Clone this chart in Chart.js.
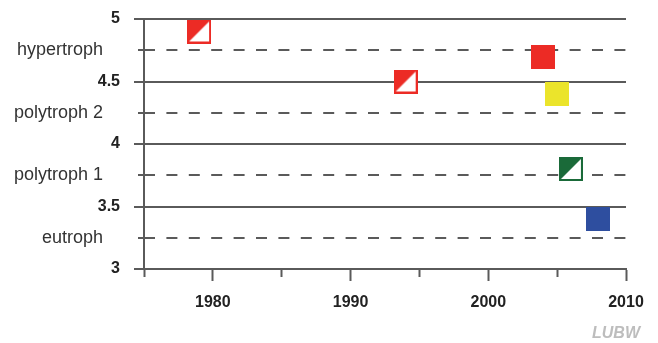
<!DOCTYPE html>
<html>
<head>
<meta charset="utf-8">
<script src="https://cdn.jsdelivr.net/npm/chart.js@4"></script>
<style>
  html, body { margin: 0; padding: 0; background: #fff; }
</style>
</head>
<body>
<canvas id="trophChart" width="658" height="343"></canvas>
<script>
// Sampling years and trophic index
const years = [1979, 1994, 2004, 2005, 2006, 2008];
const indexValues = [4.9, 4.5, 4.7, 4.4, 3.8, 3.4];
const pointColors = ['#ec2b25', '#ec2b25', '#ec2b25', '#ebe42b', '#1a6a39', '#2e4e9f'];
const halfFilled = [true, true, false, false, true, false];

// Trophic classes (dashed lines)
const classLevels = [3.25, 3.75, 4.25, 4.75];
const classNames = ['eutroph', 'polytroph 1', 'polytroph 2', 'hypertroph'];

// Labelled years on the x axis
const xLabelYears = [1980, 1990, 2000, 2010];

const xMin = 1975, xMax = 2010;
const yMin = 3, yMax = 5;

const lineColor = '#5a5a5a';
const fontFamily = "'Liberation Sans', Arial, sans-serif";

// plot area is 144..626 px wide -> used to place the two label columns left of the axis
const pxPerYear = (626 - 144) / (xMax - xMin);

// Square marker, optionally only the upper-left half filled
function makeSquare(color, half) {
    const s = 24;
    const c = document.createElement('canvas');
    c.width = s;
    c.height = s;
    const g = c.getContext('2d');
    if (half) {
        g.fillStyle = '#fff';
        g.fillRect(0, 0, s, s);
        g.fillStyle = color;
        g.beginPath();
        g.moveTo(0, 0);
        g.lineTo(s, 0);
        g.lineTo(0, s);
        g.closePath();
        g.fill();
        g.strokeStyle = color;
        g.lineWidth = 2;
        g.strokeRect(1, 1, s - 2, s - 2);
    } else {
        g.fillStyle = color;
        g.fillRect(0, 0, s, s);
    }
    return c;
}

const markers = pointColors.map((col, i) => makeSquare(col, halfFilled[i]));

// small watermark in the bottom right corner
const watermark = {
    id: 'watermark',
    afterDraw(chart) {
        const ctx = chart.ctx;
        ctx.save();
        ctx.font = "italic bold 16px " + fontFamily;
        ctx.fillStyle = '#bdbdbd';
        ctx.textAlign = 'right';
        ctx.textBaseline = 'bottom';
        ctx.fillText('LUBW', 640, 342);
        ctx.restore();
    }
};

// y axes that only carry labels
function labelAxis(xPos, opts) {
    return {
        position: { x: xPos },
        min: yMin,
        max: yMax,
        grid: { display: false, drawTicks: false },
        border: { display: false },
        ticks: Object.assign({ autoSkip: false, padding: 0 }, opts)
    };
}

new Chart(document.getElementById('trophChart'), {
    type: 'scatter',
    data: {
        datasets: [{
            data: years.map((y, i) => ({ x: y, y: indexValues[i] })),
            pointStyle: markers,
            pointRadius: 12,
            pointHoverRadius: 12,
            backgroundColor: pointColors,
            borderColor: pointColors,
            clip: false
        }]
    },
    options: {
        responsive: false,
        animation: false,
        events: [],
        layout: { padding: { left: 10, top: 19, right: 32, bottom: 0 } },
        plugins: {
            legend: { display: false },
            tooltip: { enabled: false }
        },
        scales: {
            x: {
                type: 'linear',
                min: xMin,
                max: xMax,
                afterFit(axis) { axis.height = 74; },
                ticks: {
                    stepSize: 5,
                    autoSkip: false,
                    maxRotation: 0,
                    padding: 12,
                    color: '#222',
                    font: { family: fontFamily, size: 16, weight: 'bold' },
                    callback: v => xLabelYears.includes(v) ? String(v) : ''
                },
                grid: {
                    drawOnChartArea: false,
                    tickLength: 12,
                    tickWidth: 2,
                    tickColor: lineColor,
                    tickBorderDash: ctx => (ctx.tick && ctx.tick.value % 10 === 0) ? [] : [7, 100]
                },
                border: { color: lineColor, width: 2 }
            },
            // solid lines at every 0.5
            y: {
                position: 'left',
                min: yMin,
                max: yMax,
                afterFit(axis) { axis.width = 134; },
                ticks: { stepSize: 0.5, display: false },
                grid: {
                    color: lineColor,
                    lineWidth: 2,
                    tickLength: 10,
                    tickWidth: 2,
                    tickColor: lineColor
                },
                border: { color: lineColor, width: 2 }
            },
            // dashed class boundaries
            yClassLines: {
                position: { x: xMin },
                min: yMin,
                max: yMax,
                afterBuildTicks(axis) {
                    axis.ticks = classLevels.map(v => ({ value: v }));
                },
                ticks: { display: false },
                grid: {
                    color: lineColor,
                    lineWidth: 2,
                    tickLength: 6,
                    tickWidth: 2,
                    tickColor: lineColor
                },
                border: { display: false, dash: [11, 11.4] }
            },
            yNumbers: labelAxis(xMin - 24 / pxPerYear, {
                stepSize: 0.5,
                color: '#222',
                font: { family: fontFamily, size: 16, weight: 'bold' },
                callback: v => String(v)
            }),
            yClassNames: Object.assign(labelAxis(xMin - 41 / pxPerYear, {
                color: '#333',
                font: { family: fontFamily, size: 18 },
                callback: (v, i) => classNames[i]
            }), {
                afterBuildTicks(axis) {
                    axis.ticks = classLevels.map(v => ({ value: v }));
                }
            })
        }
    },
    plugins: [watermark]
});
</script>
</body>
</html>
